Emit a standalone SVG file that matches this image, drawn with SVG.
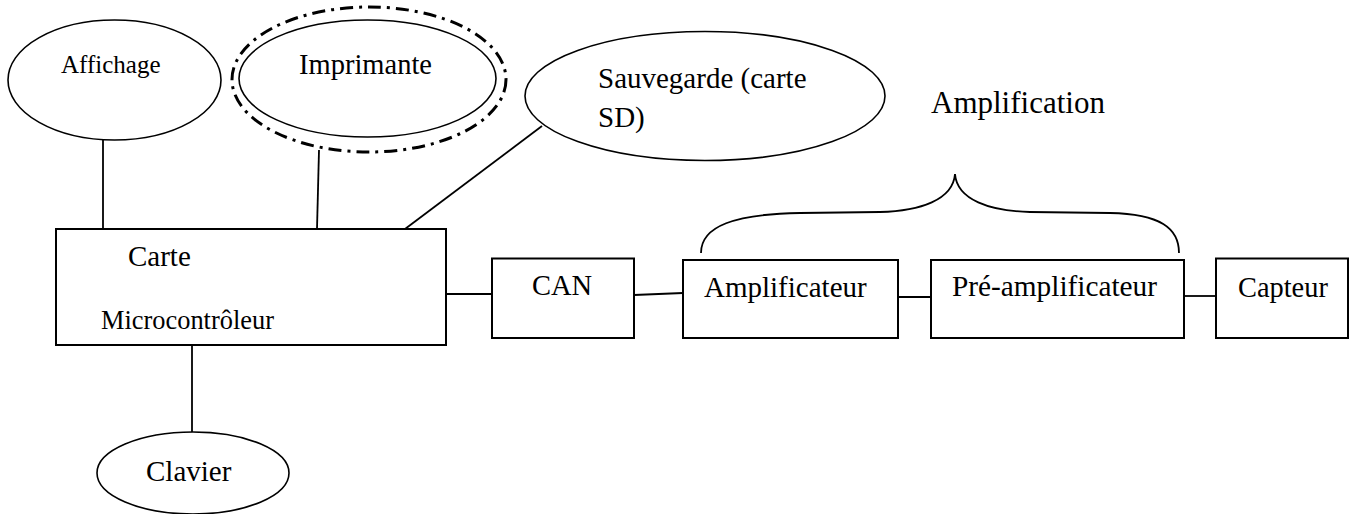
<svg xmlns="http://www.w3.org/2000/svg" width="1350" height="514" viewBox="0 0 1350 514">
<style>
.shape{fill:#fff;stroke:#000;stroke-width:1.6}
.box{fill:#fff;stroke:#000;stroke-width:2}
.conn{fill:none;stroke:#000;stroke-width:1.8}
.dashdot{fill:none;stroke:#000;stroke-width:3;stroke-dasharray:13 6 3 6}
text{font-family:"Liberation Serif","Times New Roman",serif;fill:#000}
</style>
<rect width="1350" height="514" fill="#fff"/>
<g id="connectors">
<line class="conn" x1="103" y1="140" x2="103" y2="229"/>
<line class="conn" x1="319" y1="150" x2="317" y2="229"/>
<line class="conn" x1="405" y1="229" x2="542" y2="126"/>
<line class="conn" x1="192" y1="345" x2="192" y2="432"/>
<line class="conn" x1="446" y1="294" x2="492" y2="294"/>
<line class="conn" x1="634" y1="295" x2="683" y2="293"/>
<line class="conn" x1="898" y1="297" x2="931" y2="297"/>
<line class="conn" x1="1184" y1="296" x2="1216" y2="296"/>
</g>
<g id="affichage">
<ellipse class="shape" cx="114.5" cy="80" rx="106.5" ry="60"/>
<text x="61" y="73" font-size="25">Affichage</text>
</g>
<g id="imprimante">
<ellipse class="dashdot" cx="369" cy="79.5" rx="137" ry="72.5"/>
<ellipse class="shape" cx="367.5" cy="78.5" rx="128.5" ry="58.5"/>
<text x="299" y="74" font-size="28.5">Imprimante</text>
</g>
<g id="sauvegarde">
<ellipse class="shape" cx="705" cy="96" rx="180" ry="64.5"/>
<text x="598" y="88" font-size="29">Sauvegarde (carte</text>
<text x="598" y="127" font-size="29">SD)</text>
</g>
<g id="microcontroleur">
<rect class="box" x="56" y="229" width="390" height="116"/>
<text x="128" y="266" font-size="29">Carte</text>
<text x="101" y="329" font-size="26.4">Microcontrôleur</text>
</g>
<g id="clavier">
<ellipse class="shape" cx="193" cy="473" rx="96" ry="41"/>
<text x="146" y="481" font-size="29">Clavier</text>
</g>
<g id="can">
<rect class="box" x="492" y="258.5" width="142" height="79.5"/>
<text x="532" y="295" font-size="28.5">CAN</text>
</g>
<g id="amplificateur">
<rect class="box" x="683" y="260" width="215" height="78"/>
<text x="704" y="296.5" font-size="29">Amplificateur</text>
</g>
<g id="preamplificateur">
<rect class="box" x="931" y="260" width="253" height="78"/>
<text x="952" y="296" font-size="29.3">Pré-amplificateur</text>
</g>
<g id="capteur">
<rect class="box" x="1216" y="258.5" width="132" height="79.5"/>
<text x="1238" y="297" font-size="28.4">Capteur</text>
</g>
<g id="amplification">
<path class="conn" d="M701,253 C701,226 735,214 800,213 L880,212 C920,211 953,200 955,174 C957,200 990,211 1030,212 L1110,213 C1160,214 1179,228 1179,253"/>
<text x="931" y="113" font-size="31">Amplification</text>
</g>
</svg>
